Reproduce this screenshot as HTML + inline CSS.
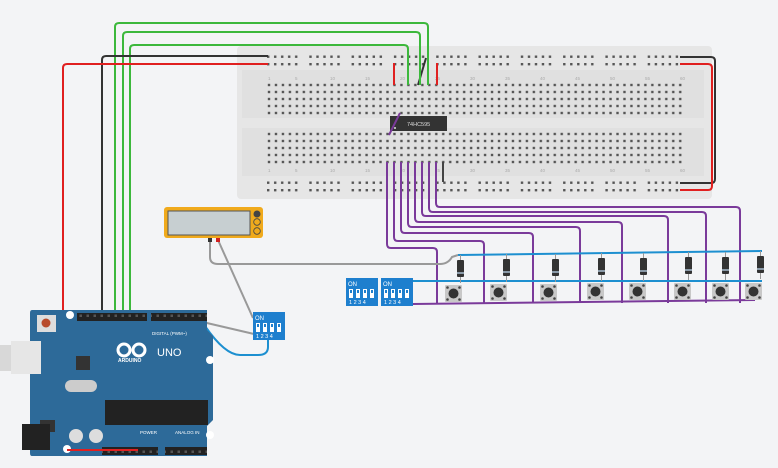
<!DOCTYPE html>
<html><head><meta charset="utf-8"><style>
html,body{margin:0;padding:0;background:#f3f4f6;}
svg{display:block;font-family:"Liberation Sans",sans-serif;}
</style></head><body>
<svg width="778" height="468" viewBox="0 0 778 468" xmlns="http://www.w3.org/2000/svg">
<defs>
<pattern id="tp" x="265.5" y="81.5" width="6.97" height="7" patternUnits="userSpaceOnUse"><rect x="2.3" y="2.3" width="2.4" height="2.4" fill="#555"/></pattern>
<pattern id="rail" x="266.5" y="53.5" width="42.3" height="7.5" patternUnits="userSpaceOnUse"><g fill="#555"><rect x="0.5" y="2" width="2.4" height="2.4"/><rect x="7.5" y="2" width="2.4" height="2.4"/><rect x="14.5" y="2" width="2.4" height="2.4"/><rect x="21.5" y="2" width="2.4" height="2.4"/><rect x="28.5" y="2" width="2.4" height="2.4"/></g></pattern>
<pattern id="rail2" x="266.5" y="179.5" width="42.3" height="7.5" patternUnits="userSpaceOnUse"><g fill="#555"><rect x="0.5" y="2" width="2.4" height="2.4"/><rect x="7.5" y="2" width="2.4" height="2.4"/><rect x="14.5" y="2" width="2.4" height="2.4"/><rect x="21.5" y="2" width="2.4" height="2.4"/><rect x="28.5" y="2" width="2.4" height="2.4"/></g></pattern>
<pattern id="hdr" x="0" y="0" width="7" height="8" patternUnits="userSpaceOnUse"><rect x="2.5" y="2.5" width="2.5" height="2.5" fill="#555"/></pattern>
<g id="btn"><rect x="0" y="0" width="17" height="17" fill="#c8c8c8" rx="1"/><circle cx="8.5" cy="8.5" r="5" fill="#333"/><circle cx="2.5" cy="2.5" r="1.3" fill="#444"/><circle cx="14.5" cy="2.5" r="1.3" fill="#444"/><circle cx="2.5" cy="14.5" r="1.3" fill="#444"/><circle cx="14.5" cy="14.5" r="1.3" fill="#444"/></g>
<g id="dio"><line x1="3.5" y1="-5" x2="3.5" y2="23" stroke="#999" stroke-width="1"/><rect x="0" y="0" width="7" height="17" fill="#333" rx="1"/><rect x="0" y="12" width="7" height="2" fill="#8a9aa8"/></g>
<g id="dip"><rect x="0" y="0" width="32" height="28" fill="#1e7fce"/><text x="2" y="8" font-size="6" fill="#fff">ON</text><g fill="#fff"><rect x="3" y="11" width="4" height="9"/><rect x="10" y="11" width="4" height="9"/><rect x="17" y="11" width="4" height="9"/><rect x="24" y="11" width="4" height="9"/></g><g fill="#1e7fce"><rect x="4" y="12" width="2" height="3"/><rect x="11" y="12" width="2" height="3"/><rect x="18" y="12" width="2" height="3"/><rect x="25" y="12" width="2" height="3"/></g><text x="3" y="26" font-size="5.5" fill="#fff">1 2 3 4</text></g>
</defs>

<rect x="237" y="46" width="475" height="153" rx="4" fill="#e6e6e6"/>
<rect x="242" y="70" width="462" height="48" fill="#e0e0e0"/>
<rect x="242" y="128" width="462" height="48" fill="#e0e0e0"/>
<rect x="265" y="81" width="419" height="36" fill="url(#tp)"/>
<rect x="265" y="130" width="419" height="36" fill="url(#tp)"/>
<rect x="266" y="53" width="415" height="15" fill="url(#rail)"/>
<rect x="266" y="179" width="415" height="15" fill="url(#rail2)"/>
<g font-size="4.5" fill="#aaa">
<text x="268" y="80">1</text><text x="295" y="80">5</text><text x="330" y="80">10</text><text x="365" y="80">15</text><text x="400" y="80">20</text><text x="435" y="80">25</text><text x="470" y="80">30</text><text x="505" y="80">35</text><text x="540" y="80">40</text><text x="575" y="80">45</text><text x="610" y="80">50</text><text x="645" y="80">55</text><text x="680" y="80">60</text>
<text x="268" y="172">1</text><text x="295" y="172">5</text><text x="330" y="172">10</text><text x="365" y="172">15</text><text x="400" y="172">20</text><text x="435" y="172">25</text><text x="470" y="172">30</text><text x="505" y="172">35</text><text x="540" y="172">40</text><text x="575" y="172">45</text><text x="610" y="172">50</text><text x="645" y="172">55</text><text x="680" y="172">60</text>
</g>
<rect x="390" y="116" width="57" height="15" fill="#333"/>
<text x="407" y="126" font-size="5.5" fill="#ddd">74HC595</text>
<circle cx="395" cy="128" r="1" fill="#ddd"/>

<g fill="none" stroke-width="2">
<line x1="394" y1="63" x2="394" y2="85" stroke="#e02020"/>
<line x1="437" y1="63" x2="437" y2="85" stroke="#e02020"/>
<line x1="418" y1="85" x2="426" y2="58" stroke="#333"/>
<line x1="443" y1="162" x2="443" y2="182" stroke="#444"/>
<line x1="400" y1="113" x2="389" y2="135" stroke="#7a3a9a"/>
<path d="M680 57 H711 Q715 57 715 61 V179 Q715 183 711 183 H680" stroke="#333"/>
<path d="M680 64 H708 Q712 64 712 68 V186 Q712 190 708 190 H680" stroke="#e02020"/>
<path d="M115 313 V27 Q115 23 119 23 H424 Q428 23 428 27 V85" stroke="#3cb83c"/>
<path d="M123 313 V36 Q123 32 127 32 H416 Q420 32 420 36 V85" stroke="#3cb83c"/>
<path d="M130 313 V49 Q130 45 134 45 H404 Q408 45 408 49 V85" stroke="#3cb83c"/>
<path d="M102 313 V60 Q102 56 106 56 H268" stroke="#333"/>
<path d="M138 450 H67 Q63 450 63 446 V68 Q63 64 67 64 H268" stroke="#e02020"/>
<g stroke="#7a3a9a">
<path d="M387 162 V244 Q387 248 391 248 H433 Q437 248 437 252 V303"/>
<path d="M394 162 V237 Q394 241 398 241 H480 Q484 241 484 245 V303"/>
<path d="M401 162 V229 Q401 233 405 233 H529 Q533 233 533 237 V303"/>
<path d="M408 162 V223 Q408 227 412 227 H576 Q580 227 580 231 V303"/>
<path d="M415 162 V218 Q415 222 419 222 H618 Q622 222 622 226 V303"/>
<path d="M422 162 V212 Q422 216 426 216 H664 Q668 216 668 220 V303"/>
<path d="M429 162 V208 Q429 212 433 212 H702 Q706 212 706 216 V303"/>
<path d="M436 162 V203 Q436 207 440 207 H736 Q740 207 740 211 V303"/>
<path d="M413 304 L755 300"/>
</g>
<g stroke="#1c8fd0">
<path d="M458 255 L762 251"/>
<path d="M413 281 H762"/>
<path d="M268 340 V347 Q268 355 258 355 H240 Q225 355 205 326 L194 320"/>
</g>
<g stroke="#999">
<path d="M210 240 V257 Q210 264 218 264 H440 Q448 264 452 257 L458 255"/>
<path d="M218 240 L253 318"/>
<path d="M194 320 L254 334"/>
</g>
</g>

<rect x="164" y="207" width="99" height="31" rx="3" fill="#f0aa1c"/>
<rect x="168" y="211" width="82" height="24" fill="#c7cfd1" stroke="#555" stroke-width="1"/>
<circle cx="257" cy="214" r="3.5" fill="#444"/><circle cx="257" cy="222" r="3.3" fill="none" stroke="#444" stroke-width="0.8"/><circle cx="257" cy="231" r="3.3" fill="none" stroke="#444" stroke-width="0.8"/>
<rect x="208" y="238" width="4" height="4" fill="#333"/><rect x="216" y="238" width="4" height="4" fill="#d02020"/>

<use href="#dip" x="253" y="312"/>
<use href="#dip" x="346" y="278"/>
<use href="#dip" x="381" y="278"/>

<use href="#dio" x="457" y="260"/><use href="#dio" x="503" y="259"/><use href="#dio" x="552" y="259"/><use href="#dio" x="598" y="258"/><use href="#dio" x="640" y="258"/><use href="#dio" x="685" y="257"/><use href="#dio" x="722" y="257"/><use href="#dio" x="757" y="256"/>
<use href="#btn" x="445" y="285"/><use href="#btn" x="490" y="284"/><use href="#btn" x="540" y="284"/><use href="#btn" x="587" y="283"/><use href="#btn" x="629" y="283"/><use href="#btn" x="674" y="283"/><use href="#btn" x="712" y="283"/><use href="#btn" x="745" y="283"/>

<rect x="0" y="345" width="12" height="26" fill="#d8d8d8"/>
<path d="M32 310 H207 V330 L213 336 V420 L207 426 V456 H32 Q30 456 30 453 V313 Q30 310 32 310Z" fill="#2d6a99"/>
<rect x="11" y="341" width="30" height="33" fill="#e6e6e6"/>
<rect x="37" y="315" width="19" height="17" fill="#ddd"/><circle cx="46" cy="323" r="4.5" fill="#b84a2a"/>
<circle cx="70" cy="315" r="4" fill="#fff"/><circle cx="210" cy="360" r="4" fill="#fff"/><circle cx="210" cy="435" r="4" fill="#fff"/><circle cx="67" cy="449" r="4" fill="#fff"/>
<rect x="77" y="313" width="70" height="8" fill="#222"/><rect x="151" y="313" width="56" height="8" fill="#222"/>
<rect x="102" y="447" width="56" height="8" fill="#222"/><rect x="165" y="447" width="42" height="8" fill="#222"/>
<rect x="77" y="313" width="70" height="8" fill="url(#hdr)"/><rect x="151" y="313" width="56" height="8" fill="url(#hdr)"/>
<rect x="102" y="447" width="56" height="8" fill="url(#hdr)"/><rect x="165" y="447" width="42" height="8" fill="url(#hdr)"/>
<text x="152" y="335" font-size="4.5" fill="#fff">DIGITAL (PWM~)</text>
<g fill="none" stroke="#fff" stroke-width="3"><circle cx="124" cy="350" r="6"/><circle cx="139" cy="350" r="6"/></g>
<text x="118" y="362" font-size="5" fill="#fff" font-weight="bold">ARDUINO</text>
<text x="157" y="356" font-size="11" fill="#fff">UNO</text>
<rect x="76" y="356" width="14" height="14" fill="#333"/>
<rect x="65" y="380" width="32" height="12" rx="6" fill="#ccc"/>
<rect x="105" y="400" width="103" height="25" fill="#222"/>
<rect x="40" y="420" width="15" height="12" fill="#333"/>
<rect x="22" y="424" width="28" height="26" fill="#222"/>
<circle cx="76" cy="436" r="7" fill="#ddd"/><circle cx="96" cy="436" r="7" fill="#ddd"/>
<text x="140" y="434" font-size="4.5" fill="#fff">POWER</text><text x="175" y="434" font-size="4.5" fill="#fff">ANALOG IN</text>
<path d="M138 450 H67" stroke="#e02020" stroke-width="2" fill="none"/>
</svg>
</body></html>
